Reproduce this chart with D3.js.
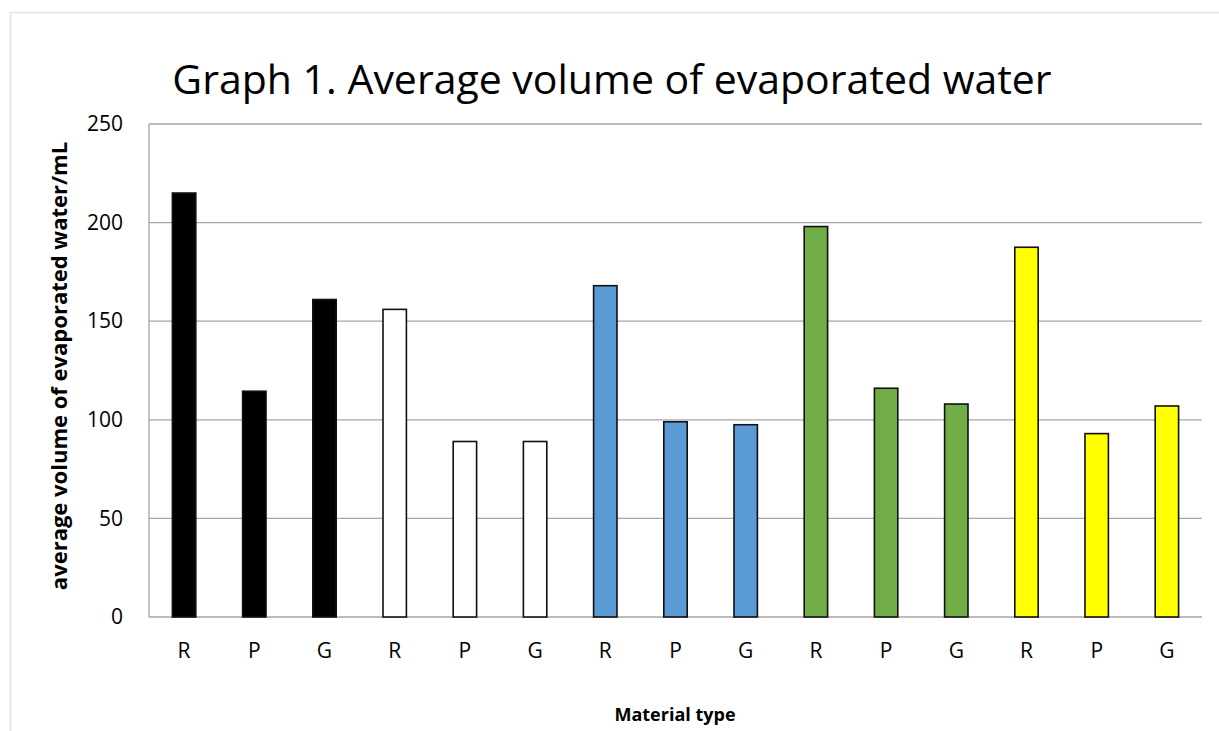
<!DOCTYPE html>
<html>
<head>
<meta charset="utf-8">
<script src="https://cdn.jsdelivr.net/npm/d3@7/dist/d3.min.js"></script>
<style>
  html, body { margin: 0; padding: 0; background: #fff; }
  svg { display: block; font-family: "Open Sans", "Noto Sans", "Liberation Sans", sans-serif; }
</style>
</head>
<body>
<svg id="chart" width="1219" height="731"></svg>
<script>
// Material type per bar (three per treatment group)
const categories = ["R", "P", "G", "R", "P", "G", "R", "P", "G", "R", "P", "G", "R", "P", "G"];
// Average volume of evaporated water (mL)
const values = [215, 114.5, 161, 156, 89, 89, 168, 99, 97.5, 198, 116, 108, 187.5, 93, 107];
// Fill colour of each group of three bars
const groupColors = ["#000000", "#ffffff", "#5b9bd5", "#70ad47", "#ffff00"];
const yTicks = [0, 50, 100, 150, 200, 250];

const title = "Graph 1. Average volume of evaporated water";
const xTitle = "Material type";
const yTitle = "average volume of evaporated water/mL";

const svg = d3.select("#chart");
const m = { left: 149, right: 1202, top: 124, bottom: 617 };

// outer chart frame
svg.append("rect")
  .attr("x", 10.5).attr("y", 12.5)
  .attr("width", 1240).attr("height", 760)
  .attr("fill", "#fff").attr("stroke", "#e3e3e3").attr("stroke-width", 1.5);

const x = d3.scaleBand()
  .domain(d3.range(categories.length))
  .range([m.left, m.right])
  .paddingInner(2 / 3)
  .paddingOuter(1 / 3);

const y = d3.scaleLinear().domain([0, 250]).range([m.bottom, m.top]);

// horizontal gridlines
svg.append("g")
  .selectAll("line")
  .data(yTicks)
  .join("line")
  .attr("x1", m.left).attr("x2", m.right)
  .attr("y1", d => y(d)).attr("y2", d => y(d))
  .attr("stroke", "#a6a6a6").attr("stroke-width", 1.3);

// left axis line
svg.append("line")
  .attr("x1", m.left).attr("x2", m.left)
  .attr("y1", m.top).attr("y2", m.bottom)
  .attr("stroke", "#a6a6a6").attr("stroke-width", 1.3);

// y axis labels
const yAxis = d3.axisLeft(y).tickValues(yTicks).tickSize(0).tickPadding(26);
const gy = svg.append("g").attr("transform", `translate(${m.left},0)`).call(yAxis);
gy.select(".domain").remove();
gy.selectAll("text")
  .attr("font-size", 21)
  .attr("fill", "#000")
  .attr("font-family", "'Open Sans', sans-serif");

// x axis labels
const xAxis = d3.axisBottom(x).tickFormat(i => categories[i]).tickSize(0).tickPadding(26);
const gx = svg.append("g").attr("transform", `translate(0,${m.bottom})`).call(xAxis);
gx.select(".domain").remove();
gx.selectAll("text")
  .attr("font-size", 21)
  .attr("fill", "#000")
  .attr("font-family", "'Open Sans', sans-serif");

// bars
svg.append("g")
  .selectAll("rect")
  .data(values)
  .join("rect")
  .attr("x", (d, i) => x(i))
  .attr("y", d => y(d))
  .attr("width", x.bandwidth())
  .attr("height", d => y(0) - y(d))
  .attr("fill", (d, i) => groupColors[Math.floor(i / 3)])
  .attr("stroke", "#111")
  .attr("stroke-width", 1.6);

// chart title
svg.append("text")
  .attr("x", 612).attr("y", 94)
  .attr("text-anchor", "middle")
  .attr("font-size", 41)
  .attr("fill", "#000")
  .text(title);

// x axis title
svg.append("text")
  .attr("x", 675).attr("y", 721)
  .attr("text-anchor", "middle")
  .attr("font-size", 18)
  .attr("font-weight", "bold")
  .attr("fill", "#000")
  .text(xTitle);

// y axis title
svg.append("text")
  .attr("transform", `translate(67,366) rotate(-90)`)
  .attr("text-anchor", "middle")
  .attr("font-size", 22)
  .attr("font-weight", "bold")
  .attr("fill", "#000")
  .text(yTitle);
</script>
</body>
</html>
